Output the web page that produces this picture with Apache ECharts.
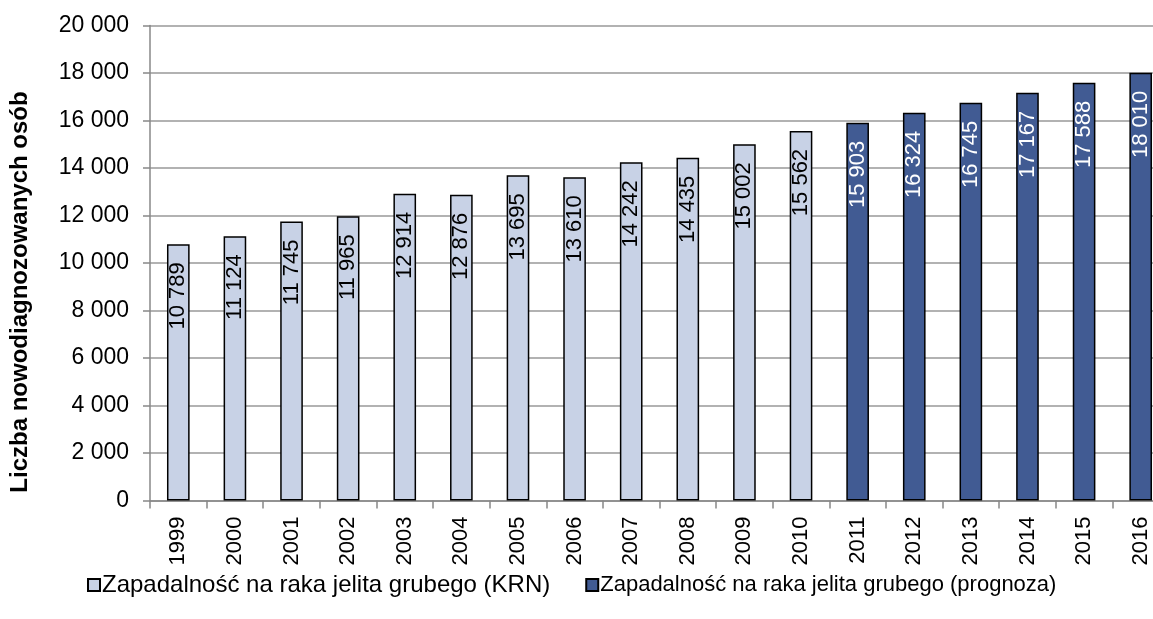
<!DOCTYPE html>
<html>
<head>
<meta charset="utf-8">
<style>
  html, body { margin: 0; padding: 0; background: #ffffff; }
  #chart { width: 1153px; height: 619px; }
</style>
<script src="https://cdn.jsdelivr.net/npm/echarts@6/dist/echarts.min.js"></script>
</head>
<body>
<div id="chart"></div>
<script>
// Years on the category axis
const years = ['1999','2000','2001','2002','2003','2004','2005','2006','2007','2008',
               '2009','2010','2011','2012','2013','2014','2015','2016'];

// Registered incidence (KRN), 1999–2010
const krnValues = [10789, 11124, 11745, 11965, 12914, 12876, 13695, 13610, 14242, 14435, 15002, 15562,
                   null, null, null, null, null, null];

// Forecast, 2011–2016
const forecastValues = [null, null, null, null, null, null, null, null, null, null, null, null,
                        15903, 16324, 16745, 17167, 17588, 18010];

const seriesNames = ['Zapadalność na raka jelita grubego (KRN)',
                     'Zapadalność na raka jelita grubego (prognoza)'];
const axisTitle = 'Liczba nowodiagnozowanych osób';

const FONT = 'Liberation Sans, Arial, sans-serif';

// thousands separated by a space: 10 789
function fmt(v) {
  return String(Math.round(v)).replace(/\B(?=(\d{3})+(?!\d))/g, ' ');
}

function barLabel(color) {
  return {
    show: true,
    position: 'insideTop',
    rotate: 90,
    align: 'right',
    verticalAlign: 'middle',
    distance: 18,
    color: color,
    fontFamily: FONT,
    fontSize: 22,
    formatter: p => fmt(p.value)
  };
}

const chart = echarts.init(document.getElementById('chart'), null, { renderer: 'canvas' });

chart.setOption({
  animation: false,
  backgroundColor: '#ffffff',
  textStyle: { fontFamily: FONT },
  // the plot runs slightly past the right edge of the canvas
  grid: { left: 150, top: 25.5, width: 1019, height: 475, outerBoundsMode: 'none', containLabel: false },
  legend: {
    bottom: 17,
    left: 82,
    itemGap: 35,
    itemWidth: 12,
    itemHeight: 12,
    icon: 'rect',
    textStyle: { fontFamily: FONT, fontSize: 22, color: '#000', padding: [0, 0, 0, -3] },
    data: [
      { name: seriesNames[0], textStyle: { fontSize: 24 } },
      { name: seriesNames[1], textStyle: { fontSize: 22 } }
    ]
  },
  // rotated axis title, centred a little below the middle of the plot
  graphic: [{
    type: 'text',
    x: 20,
    y: 292,
    rotation: Math.PI / 2,
    style: {
      text: axisTitle,
      x: 0,
      y: 0,
      align: 'center',
      verticalAlign: 'middle',
      fontFamily: FONT,
      fontSize: 24,
      fontWeight: 'bold',
      fill: '#000'
    }
  }],
  xAxis: {
    type: 'category',
    data: years,
    boundaryGap: true,
    axisLine: { lineStyle: { color: '#888888', width: 1.5 } },
    axisTick: { show: true, alignWithLabel: false, length: 8, lineStyle: { color: '#888888', width: 1.5 } },
    axisLabel: {
      rotate: 90,
      color: '#000',
      fontFamily: FONT,
      fontSize: 22,
      margin: 16,
      interval: 0
    }
  },
  yAxis: {
    type: 'value',
    min: 0,
    max: 20000,
    interval: 2000,
    axisLine: { show: true, lineStyle: { color: '#888888', width: 1.5 } },
    axisTick: { show: true, length: 7, lineStyle: { color: '#888888', width: 1.5 } },
    splitLine: { lineStyle: { color: '#999999', width: 1.5 } },
    axisLabel: {
      color: '#000',
      fontFamily: FONT,
      fontSize: 23,
      margin: 21,
      formatter: v => fmt(v)
    }
  },
  series: [
    {
      name: seriesNames[0],
      type: 'bar',
      stack: 'all',
      barWidth: '40%',
      data: krnValues,
      itemStyle: { color: '#c8d2e6', borderColor: '#000000', borderWidth: 1.5 },
      label: barLabel('#000000')
    },
    {
      name: seriesNames[1],
      type: 'bar',
      stack: 'all',
      barWidth: '40%',
      data: forecastValues,
      itemStyle: { color: '#415b93', borderColor: '#000000', borderWidth: 1.5 },
      label: barLabel('#ffffff')
    }
  ]
});
</script>
</body>
</html>
